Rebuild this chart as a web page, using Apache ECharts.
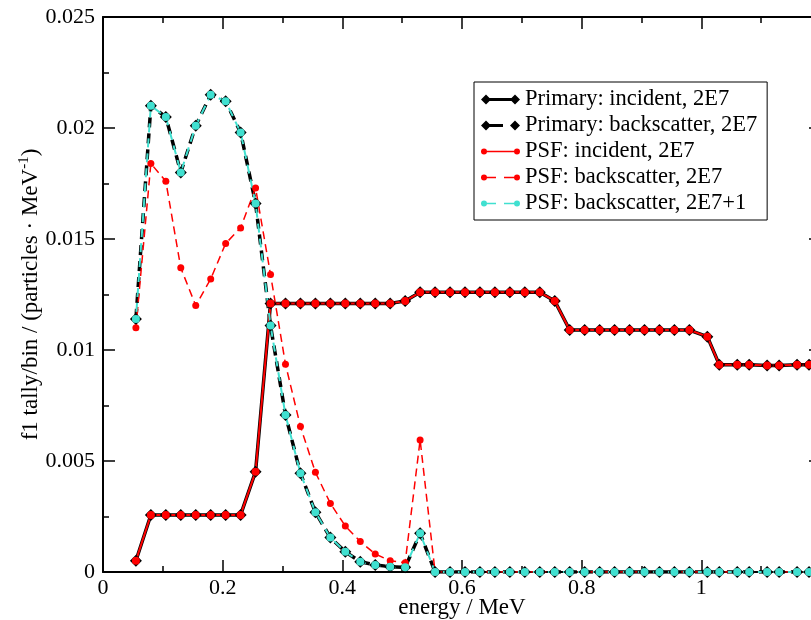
<!DOCTYPE html>
<html>
<head>
<meta charset="utf-8">
<title>f1 tally</title>
<script src="https://cdn.jsdelivr.net/npm/echarts@6/dist/echarts.min.js"></script>
<style>
  html, body { margin: 0; padding: 0; background: #fff; }
  #chart { width: 811px; height: 620px; }
</style>
</head>
<body>
<div id="chart"></div>
<script>
// bin centres in MeV
const energy = [0.055, 0.08, 0.105, 0.13, 0.155, 0.18, 0.205, 0.23, 0.255, 0.28,
  0.305, 0.33, 0.355, 0.38, 0.405, 0.43, 0.455, 0.48, 0.505, 0.53,
  0.555, 0.58, 0.605, 0.63, 0.655, 0.68, 0.705, 0.73, 0.755, 0.78,
  0.805, 0.83, 0.855, 0.88, 0.905, 0.93, 0.955, 0.98, 1.01, 1.03,
  1.06, 1.08, 1.11, 1.13, 1.16, 1.18]

const primaryIncident = [0.00051, 0.00257, 0.00257, 0.00257, 0.00257, 0.00257, 0.00257, 0.00257, 0.00452, 0.0121,
  0.0121, 0.0121, 0.0121, 0.0121, 0.0121, 0.0121, 0.0121, 0.0121, 0.01221, 0.0126,
  0.0126, 0.0126, 0.0126, 0.0126, 0.0126, 0.0126, 0.0126, 0.0126, 0.01221, 0.0109,
  0.0109, 0.0109, 0.0109, 0.0109, 0.0109, 0.0109, 0.0109, 0.0109, 0.0106, 0.00934,
  0.00934, 0.00934, 0.0093, 0.0093, 0.00934, 0.00934]

const primaryBackscatter = [0.0114, 0.0210, 0.0205, 0.0180, 0.0201, 0.0215, 0.0212, 0.0198, 0.0166, 0.0111,
  0.00707, 0.00445, 0.00269, 0.00155, 0.00091, 0.00046, 0.00032, 0.00024, 0.00021, 0.00174,
  0, 0, 0, 0, 0, 0, 0, 0, 0, 0,
  0, 0, 0, 0, 0, 0, 0, 0, 0, 0,
  0, 0, 0, 0, 0, 0]

const psfIncident = [0.00051, 0.00257, 0.00257, 0.00257, 0.00257, 0.00257, 0.00257, 0.00257, 0.00452, 0.0121,
  0.0121, 0.0121, 0.0121, 0.0121, 0.0121, 0.0121, 0.0121, 0.0121, 0.01221, 0.0126,
  0.0126, 0.0126, 0.0126, 0.0126, 0.0126, 0.0126, 0.0126, 0.0126, 0.01221, 0.0109,
  0.0109, 0.0109, 0.0109, 0.0109, 0.0109, 0.0109, 0.0109, 0.0109, 0.0106, 0.00934,
  0.00934, 0.00934, 0.0093, 0.0093, 0.00934, 0.00934]

const psfBackscatter = [0.0110, 0.0184, 0.0176, 0.0137, 0.0120, 0.0132, 0.0148, 0.0155, 0.0173, 0.0134,
  0.00936, 0.00655, 0.00449, 0.00309, 0.00207, 0.00137, 0.00081, 0.00051, 0.00042, 0.00595,
  0, 0, 0, 0, 0, 0, 0, 0, 0, 0,
  0, 0, 0, 0, 0, 0, 0, 0, 0, 0,
  0, 0, 0, 0, 0, 0]

const psfBackscatterPlus1 = [0.0114, 0.0210, 0.0205, 0.0180, 0.0201, 0.0215, 0.0212, 0.0198, 0.0166, 0.0111,
  0.00707, 0.00445, 0.00269, 0.00155, 0.00091, 0.00046, 0.00032, 0.00024, 0.00021, 0.00174,
  0, 0, 0, 0, 0, 0, 0, 0, 0, 0,
  0, 0, 0, 0, 0, 0, 0, 0, 0, 0,
  0, 0, 0, 0, 0, 0]

const xTicks = { min: 0, max: 1.2, interval: 0.2 }
const yTicks = { min: 0, max: 0.025, interval: 0.005 }

const FONT = '"Liberation Serif", "Times New Roman", serif'
const TURQ = '#40e0d0'

const pts = arr => energy.map((x, i) => [x, arr[i]])

// legend icons: line with a marker at each end (grace style)
const ICON_SOLID_DIAMOND = 'path://M0,5L5,0L10,5L5,10Z M5,3.5L34,3.5L34,6.5L5,6.5Z M29,5L34,0L39,5L34,10Z'
const ICON_DASH_DIAMOND = 'path://M0,5L5,0L10,5L5,10Z M5,3.5L22,3.5L22,6.5L5,6.5Z M29,5L34,0L39,5L34,10Z'
const ICON_SOLID_DOT = 'path://M0,5A3,3 0 1 1 6,5A3,3 0 1 1 0,5Z M3,4.2L36,4.2L36,5.8L3,5.8Z M33,5A3,3 0 1 1 39,5A3,3 0 1 1 33,5Z'
const ICON_DASH_DOT = 'path://M0,5A3,3 0 1 1 6,5A3,3 0 1 1 0,5Z M3,4.2L15,4.2L15,5.8L3,5.8Z M23,4.2L36,4.2L36,5.8L23,5.8Z M33,5A3,3 0 1 1 39,5A3,3 0 1 1 33,5Z'

const chart = echarts.init(document.getElementById('chart'))

const tickAxis = (extra) => Object.assign({
  type: 'value',
  axisLine: { show: true, onZero: false, lineStyle: { color: '#000', width: 2 } },
  axisTick: { show: true, inside: true, length: 12, lineStyle: { color: '#000', width: 1.5 } },
  minorTick: { show: true, splitNumber: 2, length: 6, lineStyle: { color: '#000', width: 1.5 } },
  splitLine: { show: false },
  minorSplitLine: { show: false }
}, extra)

const option = {
  backgroundColor: '#fff',
  animation: false,
  grid: { left: 103, top: 17, width: 718, height: 555, containLabel: false, outerBoundsMode: 'none' },
  legend: {
    orient: 'vertical',
    left: 474,
    top: 82,
    padding: [6, 10, 5, 7],
    itemGap: 3,
    itemWidth: 39,
    itemHeight: 10,
    selectedMode: false,
    backgroundColor: '#fff',
    borderColor: '#000',
    borderWidth: 1,
    itemStyle: { borderWidth: 0 },
    textStyle: { fontFamily: FONT, fontSize: 22.5, color: '#000', lineHeight: 22 },
    data: [
      { name: 'Primary: incident, 2E7', icon: ICON_SOLID_DIAMOND },
      { name: 'Primary: backscatter, 2E7', icon: ICON_DASH_DIAMOND },
      { name: 'PSF: incident, 2E7', icon: ICON_SOLID_DOT },
      { name: 'PSF: backscatter, 2E7', icon: ICON_DASH_DOT },
      { name: 'PSF: backscatter, 2E7+1', icon: ICON_DASH_DOT }
    ]
  },
  xAxis: [
    tickAxis({
      position: 'bottom',
      min: xTicks.min, max: xTicks.max, interval: xTicks.interval,
      axisLabel: { fontFamily: FONT, fontSize: 22, color: '#000', margin: 5, showMaxLabel: false },
      name: 'energy / MeV',
      nameLocation: 'middle',
      nameGap: 24,
      nameMoveOverlap: false,
      nameTextStyle: { fontFamily: FONT, fontSize: 23, color: '#000' }
    }),
    tickAxis({
      position: 'top',
      min: xTicks.min, max: xTicks.max, interval: xTicks.interval,
      axisLabel: { show: false }
    })
  ],
  yAxis: [
    tickAxis({
      position: 'left',
      min: yTicks.min, max: yTicks.max, interval: yTicks.interval,
      axisLabel: { fontFamily: FONT, fontSize: 22, color: '#000', margin: 8 },
      name: '{a|f1 tally/bin / (particles · MeV}{s|-1}{a|)}',
      nameLocation: 'middle',
      nameRotate: 90,
      nameGap: 58,
      nameMoveOverlap: false,
      nameTextStyle: {
        fontFamily: FONT, fontSize: 23, color: '#000',
        rich: {
          a: { fontFamily: FONT, fontSize: 23, color: '#000', lineHeight: 28 },
          s: { fontFamily: FONT, fontSize: 15, color: '#000', lineHeight: 15, verticalAlign: 'top' }
        }
      }
    }),
    tickAxis({
      position: 'right',
      min: yTicks.min, max: yTicks.max, interval: yTicks.interval,
      axisLabel: { show: false }
    })
  ],
  series: [
    {
      name: 'Primary: incident, 2E7',
      type: 'line',
      data: pts(primaryIncident),
      symbol: 'diamond',
      symbolSize: 12,
      showAllSymbol: true,
      itemStyle: { color: '#000', borderWidth: 0 },
      lineStyle: { color: '#000', width: 3.5 },
      emphasis: { disabled: true }
    },
    {
      name: 'Primary: backscatter, 2E7',
      type: 'line',
      data: pts(primaryBackscatter),
      symbol: 'diamond',
      symbolSize: 12,
      showAllSymbol: true,
      itemStyle: { color: '#000', borderWidth: 0 },
      lineStyle: { color: '#000', width: 3.5, type: [10, 6] },
      emphasis: { disabled: true }
    },
    {
      name: 'PSF: incident, 2E7',
      type: 'line',
      data: pts(psfIncident),
      symbol: 'circle',
      symbolSize: 8,
      showAllSymbol: true,
      itemStyle: { color: '#ff0000', borderWidth: 0 },
      lineStyle: { color: '#ff0000', width: 2 },
      emphasis: { disabled: true }
    },
    {
      name: 'PSF: backscatter, 2E7',
      type: 'line',
      data: pts(psfBackscatter),
      symbol: 'circle',
      symbolSize: 7,
      showAllSymbol: true,
      itemStyle: { color: '#ff0000', borderWidth: 0 },
      lineStyle: { color: '#ff0000', width: 1.5, type: [8, 5] },
      emphasis: { disabled: true }
    },
    {
      name: 'PSF: backscatter, 2E7+1',
      type: 'line',
      data: pts(psfBackscatterPlus1),
      symbol: 'circle',
      symbolSize: 8,
      showAllSymbol: true,
      itemStyle: { color: TURQ, borderWidth: 0 },
      lineStyle: { color: TURQ, width: 2, type: [9, 6], dashOffset: 8 },
      emphasis: { disabled: true }
    }
  ]
}

chart.setOption(option)
</script>
</body>
</html>
